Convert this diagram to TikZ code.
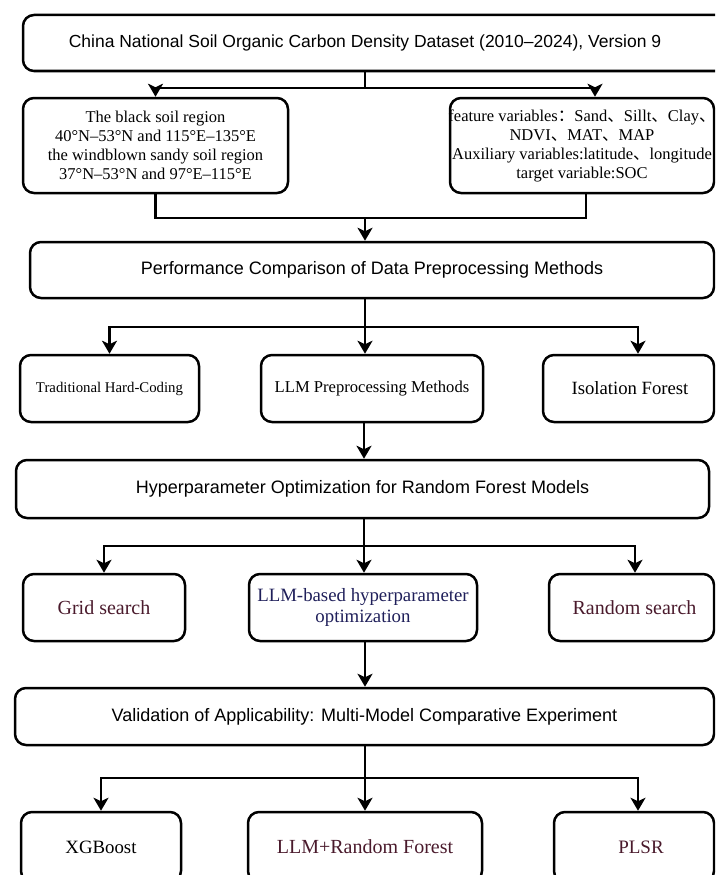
\documentclass[tikz,border=0pt]{standalone}
\usepackage{fontspec}
\setmainfont{Liberation Serif}
\setsansfont{Liberation Sans}
\newfontfamily\cjk{Noto Sans CJK SC}
\usetikzlibrary{arrows.meta}
\definecolor{maroon}{HTML}{4A1A2C}
\definecolor{navy}{HTML}{1F1F5A}
\newcommand{\zl}[1]{\makebox[0pt][c]{#1}}
\newcommand{\dn}{{\cjk 、}}
\begin{document}
\begin{tikzpicture}[x=1pt,y=-1pt,
  box/.style={draw=black, line width=2.5pt, rounded corners=11pt, inner sep=0pt, align=center},
  head/.style={box, font=\sffamily\fontsize{18}{21}\selectfont},
  conn/.style={line width=2.6pt},
  arr/.style={conn, -{Stealth[length=13pt,width=15pt,inset=3.5pt]}}]
\useasboundingbox (0,0) rectangle (715,875);
\clip (0,0) rectangle (715,875);

% row 1
\node[head, font=\sffamily\fontsize{17.5}{21}\selectfont, minimum width=707pt, minimum height=56pt] (top) at (376.5,43)
  {\zl{\hspace*{-23pt}China National Soil Organic Carbon Density Dataset (2010–2024), Version 9}};

% row 2
\node[box, minimum width=265pt, minimum height=95pt, font=\fontsize{16.5}{19}\selectfont] (black) at (155.5,145.5)
  {The black soil region\\40°N–53°N and 115°E–135°E\\the windblown sandy soil region\\37°N–53°N and 97°E–115°E};
\node[box, minimum width=264pt, minimum height=95pt, font=\fontsize{16.5}{19}\selectfont] (feat) at (582,145.5)
  {\zl{feature variables{\cjk ：}Sand\dn Sillt\dn Clay\dn}\\\zl{NDVI\dn MAT\dn MAP}\\\zl{Auxiliary variables:latitude\dn longitude}\\\zl{target variable:SOC}};

% row 3
\node[head, minimum width=684pt, minimum height=56pt] (perf) at (372,270)
  {Performance Comparison of Data Preprocessing Methods};

% row 4
\node[box, minimum width=179pt, minimum height=67pt, font=\fontsize{14.8}{17}\selectfont] (trad) at (109.5,388.5)
  {Traditional Hard-Coding};
\node[box, minimum width=222pt, minimum height=67pt, font=\fontsize{16.6}{19}\selectfont] (llmp) at (372,388.5)
  {LLM Preprocessing Methods};
\node[box, minimum width=171pt, minimum height=67pt, font=\fontsize{18.7}{21}\selectfont] (iso) at (628.5,388.5)
  {\hspace*{3pt}Isolation Forest};

% row 5
\node[head, minimum width=693pt, minimum height=58pt] (hyper) at (362.5,489)
  {Hyperparameter Optimization for Random Forest Models};

% row 6
\node[box, minimum width=162pt, minimum height=67pt, text=maroon, font=\fontsize{20}{22}\selectfont] (grid) at (104,607.5)
  {Grid search};
\node[box, minimum width=228pt, minimum height=67pt, text=navy, font=\fontsize{18.8}{21}\selectfont] (llmh) at (363,607.5)
  {LLM-based hyperparameter\\optimization};
\node[box, minimum width=165pt, minimum height=67pt, text=maroon, font=\fontsize{20}{22}\selectfont] (rand) at (631.5,607.5)
  {\hspace*{6pt}Random search};

% row 7
\node[head, minimum width=699pt, minimum height=57pt] (valid) at (364.5,716.5)
  {Validation of Applicability: Multi-Model Comparative Experiment};

% row 8
\node[box, minimum width=160pt, minimum height=70pt, font=\fontsize{18.8}{21}\selectfont] (xgb) at (101,847)
  {XGBoost};
\node[box, minimum width=234pt, minimum height=70pt, text=maroon, font=\fontsize{20}{22}\selectfont] (llmrf) at (365,847)
  {LLM+Random Forest};
\node[box, minimum width=160pt, minimum height=70pt, text=maroon, font=\fontsize{19}{21}\selectfont] (plsr) at (634,847)
  {\hspace*{14pt}PLSR};

% connectors
\coordinate (j0) at (365,88);
\draw[conn] ([xshift=-11.5pt]top.south) -- (j0);
\draw[arr] (j0) -| (black.north);
\draw[arr] (j0) -| ([xshift=13pt]feat.north);

\coordinate (j1) at (365,218);
\draw[conn] (black.south) |- (j1) -| ([xshift=4pt]feat.south);
\draw[arr] (j1) -- (j1 |- perf.north);

\coordinate (j2) at (365,327);
\draw[conn] (j2 |- perf.south) -- (j2);
\draw[arr] (j2) -| (trad.north);
\draw[arr] (j2) -- (j2 |- llmp.north);
\draw[arr] (j2) -| ([xshift=9.5pt]iso.north);

\coordinate (k3) at (364,440);
\draw[arr] (llmp.south -| k3) -- (hyper.north -| k3);

\coordinate (j4) at (364,546);
\draw[conn] (j4 |- hyper.south) -- (j4);
\draw[arr] (j4) -| (grid.north);
\draw[arr] (j4) -- (j4 |- llmh.north);
\draw[arr] (j4) -| ([xshift=3.5pt]rand.north);

\coordinate (k5) at (365,660);
\draw[arr] (llmh.south -| k5) -- (valid.north -| k5);

\coordinate (j5) at (365,778);
\draw[conn] (j5 |- valid.south) -- (j5);
\draw[arr] (j5) -| (xgb.north);
\draw[arr] (j5) -- (j5 |- llmrf.north);
\draw[arr] (j5) -| ([xshift=4pt]plsr.north);
\end{tikzpicture}
\end{document}
